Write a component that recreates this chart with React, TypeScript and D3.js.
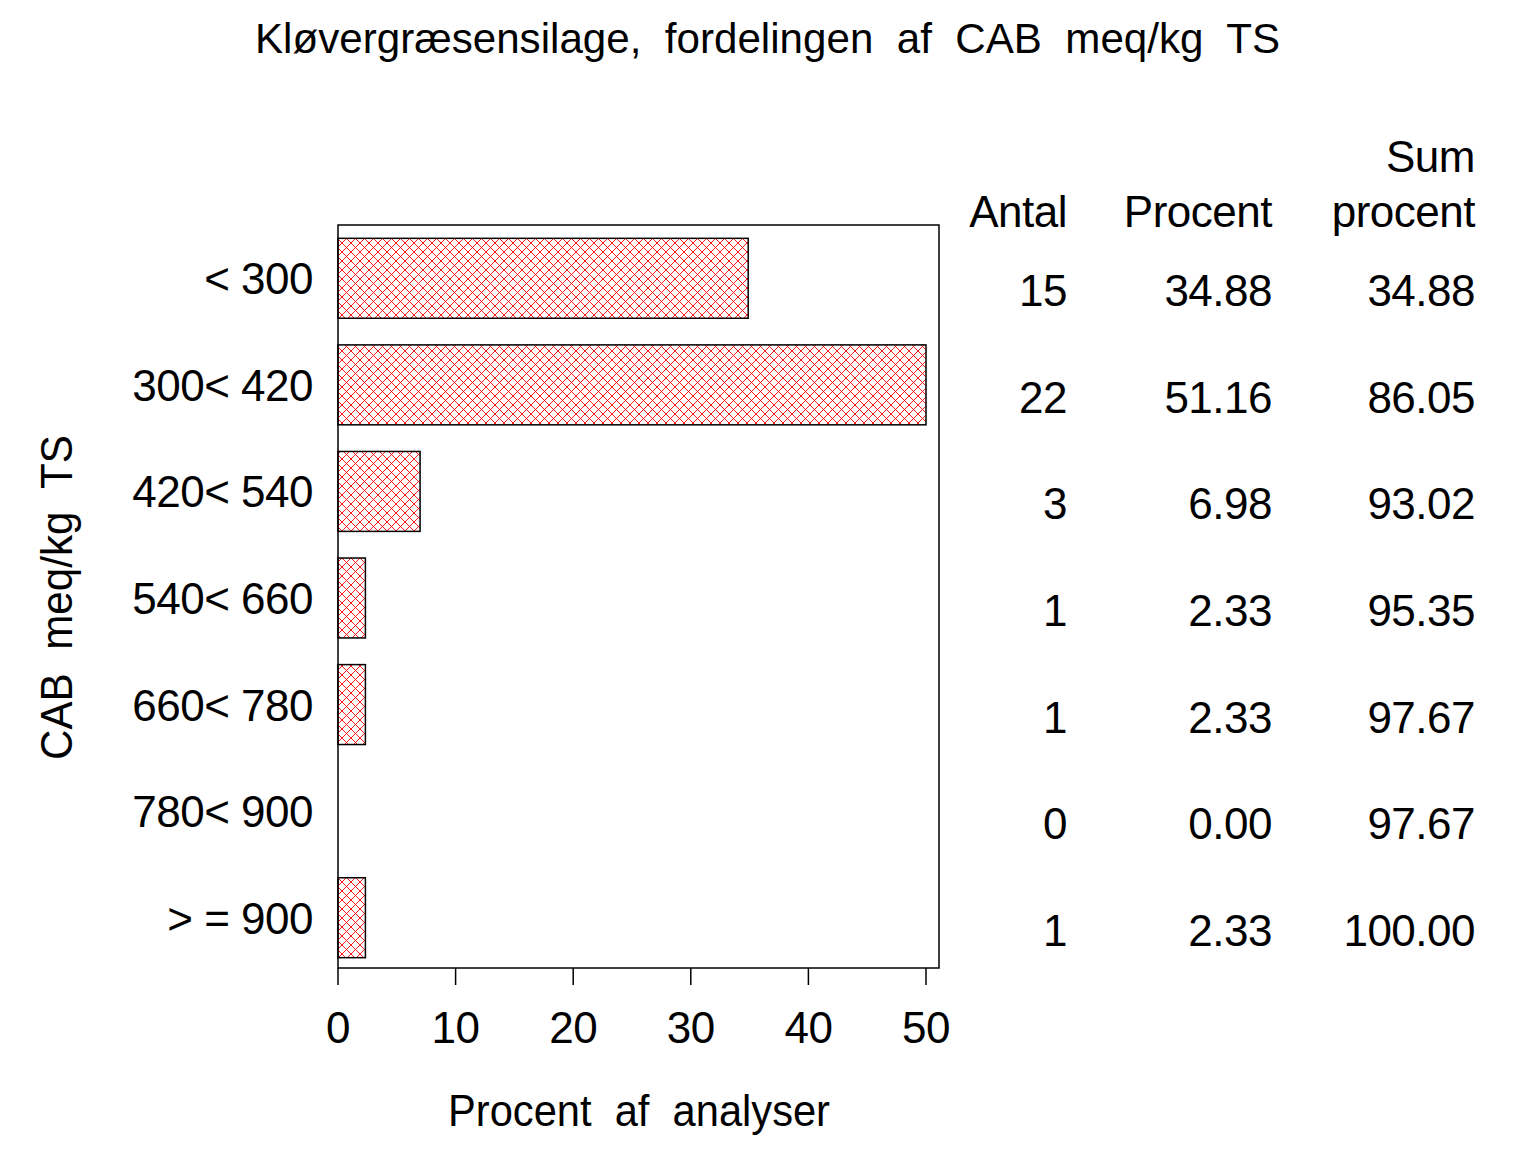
import React from "react";
import * as d3 from "d3";

const categories = ["< 300", "300< 420", "420< 540", "540< 660", "660< 780", "780< 900", "> = 900"];
const antal = [15, 22, 3, 1, 1, 0, 1];
const procent = [34.88, 51.16, 6.98, 2.33, 2.33, 0.0, 2.33];
const sumProcent = [34.88, 86.05, 93.02, 95.35, 97.67, 97.67, 100.0];
const xTicks = [0, 10, 20, 30, 40, 50];

const FONT = "'Liberation Sans', Arial, sans-serif";

export default function App() {
  const W = 1536, H = 1152;
  const left = 338, right = 939, top = 225, bottom = 968;
  const x = d3.scaleLinear().domain([0, 50]).range([left, 926]);
  const y = d3.scaleBand<string>().domain(categories).range([225, 971]).paddingInner(0.25).paddingOuter(0.125);
  const bw = y.bandwidth();
  const fs = 44;
  const ls = -0.5;
  const colAntal = 1067, colProc = 1272, colSum = 1475;
  return (
    <svg width={W} height={H} style={{ position: "absolute", left: 0, top: 0, background: "#fff" }} fontFamily={FONT}>
      <defs>
        <pattern id="hatch" patternUnits="userSpaceOnUse" width={9} height={9}>
          <path d="M0,0 L9,9 M9,0 L0,9" stroke="#ff0000" strokeWidth={0.9} fill="none" />
        </pattern>
      </defs>
      <rect x={0} y={0} width={W} height={H} fill="#fff" />
      <text x={255} y={53} fontSize={42} textLength={1025} lengthAdjust="spacingAndGlyphs" style={{ whiteSpace: "pre" }}>
        {"Kløvergræsensilage,  fordelingen  af  CAB  meq/kg  TS"}
      </text>
      {/* frame */}
      <rect x={left} y={top} width={right - left} height={bottom - top} fill="none" stroke="#000" strokeWidth={1.5} />
      {/* bars */}
      {categories.map((c, i) => {
        const v = Math.min(procent[i], 50);
        if (v <= 0) return null;
        return (
          <rect key={c} x={x(0)} y={y(c)!} width={x(v) - x(0)} height={bw} fill="url(#hatch)" stroke="#000" strokeWidth={1.5} />
        );
      })}
      {/* category labels */}
      {categories.map((c) => (
        <text key={c} x={313} y={y(c)! + bw / 2 + 16} fontSize={fs} textAnchor="end" letterSpacing={ls} style={{ whiteSpace: "pre" }}>
          {c}
        </text>
      ))}
      {/* x ticks */}
      {xTicks.map((t) => (
        <g key={t}>
          <line x1={x(t)} x2={x(t)} y1={bottom} y2={985} stroke="#000" strokeWidth={1.5} />
          <text x={x(t)} y={1043} fontSize={fs} textAnchor="middle" letterSpacing={ls}>{t}</text>
        </g>
      ))}
      <text x={448} y={1126} fontSize={fs} textLength={382} lengthAdjust="spacingAndGlyphs" style={{ whiteSpace: "pre" }}>
        {"Procent  af  analyser"}
      </text>
      <text transform={`translate(72,760) rotate(-90)`} fontSize={fs} textLength={325} lengthAdjust="spacingAndGlyphs" style={{ whiteSpace: "pre" }}>
        {"CAB  meq/kg  TS"}
      </text>
      {/* table header */}
      <g fontSize={fs} textAnchor="end" letterSpacing={ls}>
        <text x={colSum} y={172}>Sum</text>
        <text x={colAntal} y={227}>Antal</text>
        <text x={colProc} y={227}>Procent</text>
        <text x={colSum} y={227}>procent</text>
        {categories.map((c, i) => {
          const yy = y(c)! + bw / 2 + 28;
          return (
            <g key={c}>
              <text x={colAntal} y={yy}>{antal[i]}</text>
              <text x={colProc} y={yy}>{procent[i].toFixed(2)}</text>
              <text x={colSum} y={yy}>{sumProcent[i].toFixed(2)}</text>
            </g>
          );
        })}
      </g>
    </svg>
  );
}
